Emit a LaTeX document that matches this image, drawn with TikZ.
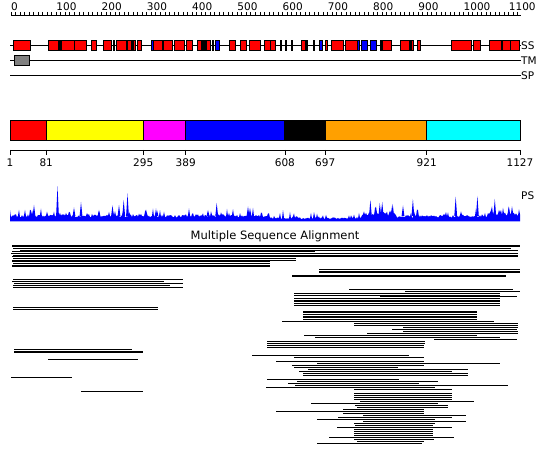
\documentclass[tikz,border=0pt]{standalone}
\usepackage{fontspec}
\setmainfont{DejaVu Sans}
\usepackage{xcolor}
\usepackage{tikz}
\usetikzlibrary{positioning,calc}

\definecolor{ssred}{RGB}{255,0,0}
\definecolor{ssblue}{RGB}{0,0,255}
\definecolor{tmgray}{RGB}{128,128,128}
\definecolor{domyellow}{RGB}{255,255,0}
\definecolor{dommagenta}{RGB}{255,0,255}
\definecolor{domorange}{RGB}{255,160,0}
\definecolor{domcyan}{RGB}{0,255,255}

\begin{document}
\begin{tikzpicture}[
    x=1pt, y=-1pt,
    track/.style={line width=0.9pt},
    ssbox/.style={draw, line width=0.8pt},
    rulertick/.style={line width=0.7pt},
    dombox/.style={draw, line width=0.9pt},
    label/.style={font=\fontsize{10.5}{12}\selectfont, inner sep=0pt},
    msaline/.style={line width=0.85pt}
]
\useasboundingbox (0,0) rectangle (550,465);

% Ruler
\draw[rulertick] (11,15) -- (521,15);
\foreach \r in {0,10,...,1120}
    \draw[rulertick] ({11+0.4525*\r},12) -- ({11+0.4525*\r},15);
\foreach \r in {0,100,...,1100}
    \node[label, anchor=south west] (ruler\r) at ({11+0.4525*\r},10.5) {\r};

% SS track
\draw[track] (10,45) -- (521,45);
\node[label, anchor=west] (ssLabel) at (521,46) {SS};
\foreach \a/\b/\c in {13.3/30.7/ssred, 48.3/58.3/ssred, 58.3/61.7/black, 61.7/74/ssred,
    74.3/86.7/ssred, 91/96.7/ssred, 103.3/111.7/ssred, 113/114/black, 116/126.7/ssred,
    127.7/135/ssred, 131.5/133/black, 137.3/141.7/ssred, 151.7/153/ssblue, 153/162.3/ssred,
    163.3/172.7/ssred, 174/184/ssred, 186/192/ssred, 197.3/201/ssred, 201/202.3/ssblue,
    202.3/206.7/black, 206.7/210.7/ssred, 212.5/213.5/black, 215/219.7/ssblue,
    229.3/235.7/ssred, 240/246.7/ssred, 249/260.7/ssred, 264.3/270/ssred, 270/275.7/ssred,
    280/281/black, 285.5/286.5/black, 291/292/black, 301/305/ssred, 306/307/black,
    313/314/black, 319.3/322.7/ssblue, 325/327.7/ssred, 331/343.3/ssred, 345.3/357.3/ssred,
    357.3/359/ssblue, 361.7/367.3/ssblue, 370/376.7/ssblue, 380.7/382.3/black,
    382.7/391.7/ssred, 400.7/409.3/ssred, 409.3/411.7/black, 411.7/413.3/ssred,
    417.3/420/ssred, 451.7/471.7/ssred, 473.3/480/ssred, 489.3/501/ssred,
    502.7/510/ssred, 510.7/519/ssred}
    \draw[ssbox, fill=\c] (\a,40) rectangle (\b,50);

% TM track
\draw[track] (10,60) -- (521,60);
\draw[ssbox, fill=tmgray] (14.3,55.7) rectangle (29.3,65.3);
\node[label, anchor=west] (tmLabel) at (521,61) {TM};

% SP track
\draw[track] (10,75) -- (521,75);
\node[label, anchor=west] (spLabel) at (521,76) {SP};

% Domains
\foreach \a/\b/\c in {10/46.2/ssred, 46.2/143.2/domyellow, 143.2/185.7/dommagenta,
    185.7/284.9/ssblue, 284.9/325.2/black, 325.2/426.7/domorange, 426.7/520/domcyan}
    \draw[dombox, fill=\c] (\a,120) rectangle (\b,140.5);
\draw[rulertick] (10,150) -- (520,150);
\foreach \p/\r in {10/1, 46.2/81, 143.2/295, 185.7/389, 284.9/608, 325.2/697, 426.7/921, 520/1127} {
    \draw[rulertick] (\p,150) -- (\p,155);
    \node[label, anchor=north] (dom\r) at (\p,158.5) {\r};
}

% PS profile
\pgfmathsetseed{17}
\fill[ssblue] (10,221.5) \foreach \i in {10,...,520} {
    -- (\i,{221.5-(6.5-2.5*(\i>268)*(\i<362)+2.5*(\i>362)*(\i<396)+2*(\i>486))*(0.6+0.4*rnd)-8*rnd^7}) }
    -- (520,221.5) -- cycle;
\foreach \sx/\sy in {34/205, 57.5/186.3, 74/207.5, 81/202, 99/210, 112.5/205.5, 119/205,
    123.7/200, 127.5/193.5, 157/210, 208/210, 216.7/203, 248/206.5, 250/208, 370.4/200,
    379.8/203, 382.2/202, 392.7/204, 403/205.5, 412.9/199, 455.7/196.7, 477.4/196,
    494.8/199, 508.7/206.5}
    \fill[ssblue] (\sx-1.4,216) -- (\sx,\sy) -- (\sx+1.4,216) -- cycle;
\node[label, anchor=west] (psLabel) at (521,196) {PS};

% MSA
\node[label, font=\fontsize{11.5}{13}\selectfont] (msaTitle) at (275,236) {Multiple Sequence Alignment};
\foreach \y/\a/\b in {245/12/520, 246.7/12/520, 248.3/13/511, 250/20/518, 251.7/12/315,
    253.3/11/518, 255/13/518, 256.7/12/518, 258.3/13/296, 260/12/296, 261.7/12/270,
    263.3/13/270, 265/12/270, 266.7/12/270,
    269.3/319/520, 271/319/520, 272.7/319/520, 275/292/506, 276.7/292/506,
    279.3/13/183, 281.3/12/164, 283.3/14/183, 285.3/13/170, 287.3/13/183,
    289.3/349/513, 291/405/520, 293/294/500, 295/294/500, 296.7/380/517, 298.3/294/500,
    300/294/500, 301.7/294/500, 303.3/294/500, 305/294/500,
    307.7/13/158, 309.3/13/158,
    311/303/477, 312.7/303/477, 314.3/303/477, 316/303/477, 317.7/303/477, 319.3/303/477,
    321/282/494, 323.3/354/518, 325/354/518, 327.3/403/518, 329.3/392/517, 331.3/403/518,
    333.3/367/518, 335.3/304/477, 337.3/315/500, 339.3/434/517, 341.3/267/425,
    343.3/267/425, 345.2/267/424, 347/267/424,
    349.3/14/132, 351/14/143, 352.7/14/143, 359.3/48/138, 377.3/11/72, 391.3/81/143,
    355/252/409, 357/294/424, 361/276/424, 363/317/500, 365/292/424, 367/294/398,
    369/308/468, 371/299/452, 373/303/468, 375/303/468, 379.3/267/399, 381.3/297/438,
    383.3/288/419, 385.3/295/508, 387.3/266/435, 389.3/354/452, 393.3/354/452,
    395.3/354/452, 397.3/354/452, 399.3/354/452, 401.3/360/474, 403.3/311/438,
    405.3/355/448, 407.3/357/448, 409.3/343/424, 411.3/276/424, 413.3/343/424,
    415.3/363/466, 417.3/338/452, 419.3/317/435, 421.3/363/466, 423.3/354/435,
    425.3/355/433, 427.3/337/452, 429.3/354/433, 431.3/354/433, 433.3/354/433,
    435.3/354/433, 437.3/329/454, 439.3/354/434, 441.3/357/424, 443.3/317/422}
    \draw[msaline] (\a,\y) -- (\b,\y);

\end{tikzpicture}
\end{document}
